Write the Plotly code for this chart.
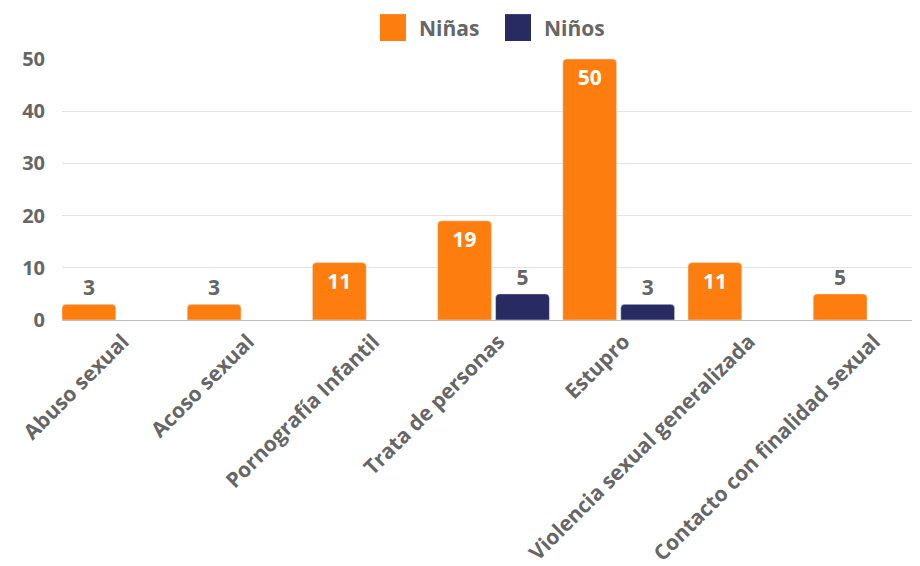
import plotly.graph_objects as go

categorias = ["Abuso sexual", "Acoso sexual", "Pornografía Infantil", "Trata de personas",
              "Estupro", "Violencia sexual generalizada", "Contacto con finalidad sexual"]
ninas = [3, 3, 11, 19, 50, 11, 5]
ninos = [None, None, None, 5, 3, None, None]
series = [("Niñas", "#fd7e0e"), ("Niños", "#272b62")]

gris = "#666666"
fuente = "Open Sans"


def posiciones(valores):
    return ["inside" if (v or 0) >= 10 else "outside" for v in valores]


fig = go.Figure()

for (nombre, color), valores, desplaz in zip(series, [ninas, ninos], [-0.447, 0.016]):
    fig.add_trace(go.Bar(
        x=categorias, y=valores, name=nombre, showlegend=False,
        marker=dict(color=color, cornerradius=4),
        width=0.43, offset=desplaz,
        text=valores, textposition=posiciones(valores), insidetextanchor="end",
        insidetextfont=dict(color="white", size=21, family=fuente, weight="bold"),
        outsidetextfont=dict(color=gris, size=21, family=fuente, weight="bold"),
        cliponaxis=False,
    ))

# leyenda dibujada a mano (cuadrados grandes)
ley_x = [(0.3706, 0.4009, 0.4138), (0.5163, 0.5466, 0.5594)]
for (nombre, color), (x0, x1, xt) in zip(series, ley_x):
    fig.add_shape(type="rect", xref="paper", yref="paper", x0=x0, x1=x1,
                  y0=1.069, y1=1.172, fillcolor=color, line_width=0)
    fig.add_annotation(xref="paper", yref="paper", x=xt, y=1.119, text=nombre,
                       showarrow=False, xanchor="left", yanchor="middle",
                       font=dict(size=21, weight="bold", color=gris))

# la página deja 8 px de margen, por eso 912x558
fig.update_layout(
    width=912, height=558,
    margin=dict(l=54, r=0, t=51, b=246, autoexpand=False),
    plot_bgcolor="white", paper_bgcolor="white",
    font=dict(family=fuente, color=gris, size=18),
    barmode="group", showlegend=False,
    xaxis=dict(range=[-0.447, 6.406], tickangle=-45, showgrid=False, automargin=False,
               tickfont=dict(size=21, weight="bold", color=gris), ticklabelshift=5,
               showline=True, linecolor="#bdbdbd", linewidth=1),
    yaxis=dict(range=[0, 50], dtick=10, showgrid=True, gridcolor="#e3e3e3",
               zeroline=False, ticklabelstandoff=16, automargin=False,
               tickfont=dict(size=20, weight="bold", color=gris)),
)

fig.write_html("out.html")
